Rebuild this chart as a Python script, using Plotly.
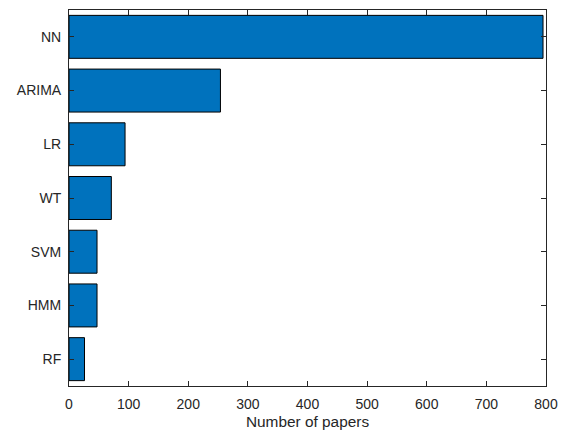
import plotly.graph_objects as go

categories = ["NN", "ARIMA", "LR", "WT", "SVM", "HMM", "RF"]
papers = [795, 254, 94, 71, 47, 47, 26]
x_ticks = [0, 100, 200, 300, 400, 500, 600, 700, 800]

axis_color = "#262626"
font_family = "Liberation Sans, Arial, Helvetica, sans-serif"

fig = go.Figure(
    go.Bar(
        x=papers,
        y=categories,
        orientation="h",
        marker=dict(color="#0072BD", line=dict(color="#000000", width=1)),
        hoverinfo="x+y",
    )
)

fig.update_layout(
    width=564,
    height=434,
    margin=dict(l=69, r=17.5, t=9.5, b=48),
    paper_bgcolor="white",
    plot_bgcolor="white",
    bargap=0.2,
    showlegend=False,
    font=dict(family=font_family, size=14, color=axis_color),
    xaxis=dict(
        range=[0, 800],
        tickvals=x_ticks,
        ticktext=[str(v) for v in x_ticks],
        ticks="inside",
        ticklen=5,
        tickwidth=1,
        tickcolor=axis_color,
        showline=True,
        linecolor=axis_color,
        linewidth=1,
        mirror="allticks",
        showgrid=False,
        zeroline=False,
        title=dict(text="Number of papers", font=dict(size=15.4, color=axis_color), standoff=5),
        tickfont=dict(size=14, color=axis_color),
        ticklabelstandoff=5,
        automargin=False,
    ),
    yaxis=dict(
        categoryorder="array",
        categoryarray=categories,
        range=[6.5, -0.5],
        ticks="inside",
        ticklen=5,
        tickwidth=1,
        tickcolor=axis_color,
        showline=True,
        linecolor=axis_color,
        linewidth=1,
        mirror="allticks",
        showgrid=False,
        zeroline=False,
        tickfont=dict(size=14, color=axis_color),
        ticklabelstandoff=4,
        automargin=False,
    ),
)

fig.write_html("out.html")
